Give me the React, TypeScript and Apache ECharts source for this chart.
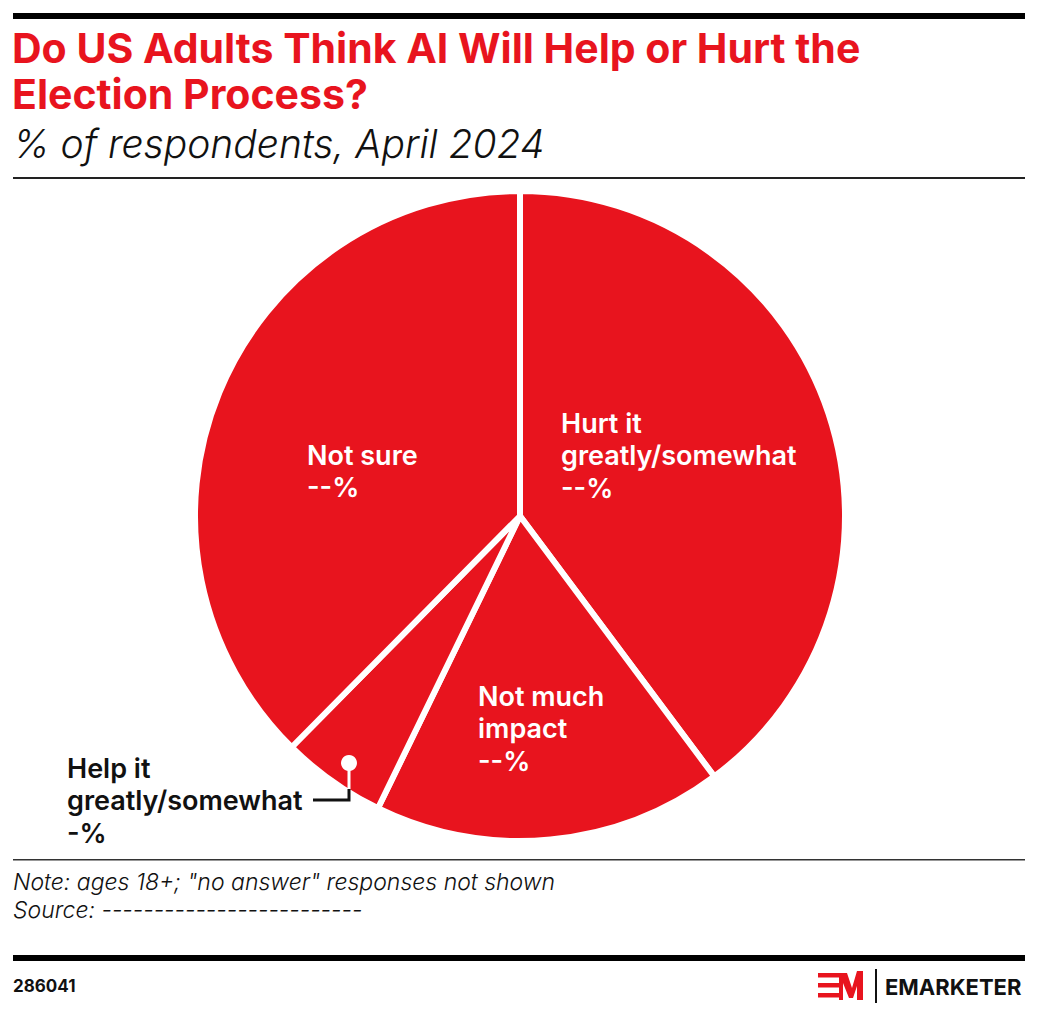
import React, { useEffect, useRef } from "react";
import * as echarts from "echarts";

const categories = ["Hurt it greatly/somewhat", "Not much impact", "Help it greatly/somewhat", "Not sure"];
const values = [39.8, 17.4, 5.2, 37.6];
const valueLabels = ["--%", "--%", "-%", "--%"];
const labelLines = [["Hurt it", "greatly/somewhat"], ["Not much", "impact"], ["Help it", "greatly/somewhat"], ["Not sure"]];

const RED = "#e8141e";
const CX = 520;
const CY = 516;
const R = 325;

export default function App() {
  const ref = useRef<HTMLDivElement>(null);
  useEffect(() => {
    document.body.style.margin = "0";
    const chart = echarts.init(ref.current!, null, { renderer: "svg" });
    const labelPos = [
      { x: 561, y: 423, fill: "#fff" },
      { x: 478, y: 696, fill: "#fff" },
      { x: 67, y: 768, fill: "#111" },
      { x: 307, y: 455, fill: "#fff" },
    ];
    const labelTexts = categories.map((_, i) => ({
      type: "text",
      z: 100,
      x: labelPos[i].x,
      y: labelPos[i].y - 16,
      style: {
        text: [...labelLines[i], valueLabels[i]].join("\n"),
        fill: labelPos[i].fill,
        font: "600 27px Inter, Roboto, sans-serif",
        lineHeight: 32.5,
        textAlign: "left",
        textVerticalAlign: "top",
      },
    }));
    chart.setOption({
      animation: false,
      backgroundColor: "#fff",
      series: [
        {
          type: "pie",
          center: [CX, CY],
          radius: [0, R],
          startAngle: 90,
          clockwise: true,
          silent: true,
          label: { show: false },
          labelLine: { show: false },
          itemStyle: { color: RED, borderColor: "#fff", borderWidth: 6 },
          data: categories.map((c, i) => ({ name: c, value: values[i] })),
        },
      ],
      graphic: [
        { type: "rect", shape: { x: 13, y: 13, width: 1012, height: 6 }, style: { fill: "#000" } },
        {
          type: "text", x: 12, y: 25,
          style: {
            text: "Do US Adults Think AI Will Help or Hurt the\nElection Process?",
            fill: RED, font: "bold 41px Inter, Roboto, sans-serif", lineHeight: 46,
            textVerticalAlign: "top",
          },
        },
        {
          type: "text", x: 13, y: 124,
          style: {
            text: "% of respondents, April 2024",
            fill: "#111", font: "italic 300 39px Inter, Roboto, sans-serif",
            textVerticalAlign: "top",
          },
        },
        { type: "rect", shape: { x: 13, y: 177, width: 1012, height: 2 }, style: { fill: "#222" } },
        ...labelTexts,
        {
          type: "polyline", z: 100,
          shape: { points: [[349, 789], [349, 800], [313, 800]] },
          style: { stroke: "#111", lineWidth: 3, fill: null },
        },
        {
          type: "line", z: 100,
          shape: { x1: 349, y1: 763, x2: 349, y2: 789 },
          style: { stroke: "#fff", lineWidth: 3 },
        },
        { type: "circle", z: 100, shape: { cx: 349, cy: 763, r: 8 }, style: { fill: "#fff" } },
        { type: "rect", shape: { x: 13, y: 859, width: 1012, height: 1.5 }, style: { fill: "#333" } },
        {
          type: "text", x: 13, y: 868,
          style: {
            text: "Note: ages 18+; \"no answer\" responses not shown\nSource: -------------------------",
            fill: "#111", font: "italic 300 23px Inter, Roboto, sans-serif", lineHeight: 28,
            textVerticalAlign: "top",
          },
        },
        { type: "rect", shape: { x: 13, y: 955, width: 1012, height: 6 }, style: { fill: "#000" } },
        {
          type: "text", x: 13, y: 986,
          style: { text: "286041", fill: "#111", font: "bold 17px Inter, Roboto, sans-serif", textVerticalAlign: "middle" },
        },
        { type: "rect", shape: { x: 818, y: 973, width: 21, height: 4.5 }, style: { fill: RED } },
        { type: "rect", shape: { x: 818, y: 983, width: 21, height: 4.5 }, style: { fill: RED } },
        { type: "rect", shape: { x: 818, y: 993, width: 21, height: 4.5 }, style: { fill: RED } },
        {
          type: "polygon",
          shape: { points: [[836, 973], [847, 973], [852, 988], [857, 971], [863, 971], [863, 1000], [857, 1000], [857, 986], [853, 998], [849, 998], [843, 983], [843, 1000], [839, 1000], [839, 977], [836, 977]] },
          style: { fill: RED },
        },
        { type: "rect", shape: { x: 875, y: 969, width: 2, height: 34 }, style: { fill: "#111" } },
        {
          type: "text", x: 885, y: 987,
          style: { text: "EMARKETER", fill: "#111", font: "bold 22px Inter, Roboto, sans-serif", textVerticalAlign: "middle" },
        },
      ],
    });
    return () => chart.dispose();
  }, []);
  return <div ref={ref} style={{ width: 1038, height: 1016 }} />;
}
